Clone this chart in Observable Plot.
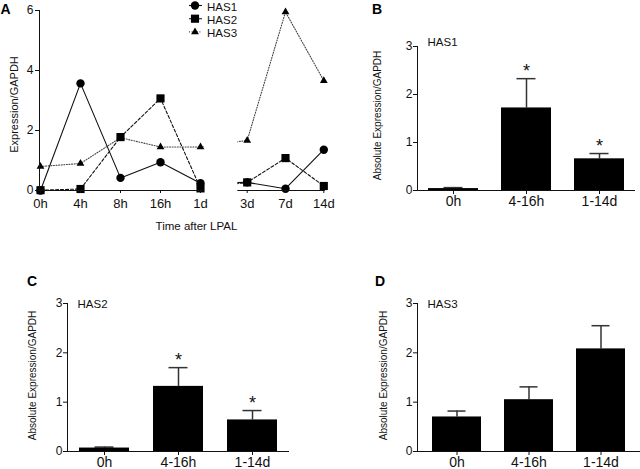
<!DOCTYPE html>
<html><head><meta charset="utf-8">
<script src="https://cdn.jsdelivr.net/npm/d3@7"></script>
<script src="https://cdn.jsdelivr.net/npm/@observablehq/plot@0.6"></script>
<style>
body{margin:0;background:#fff;}
#wrap{position:relative;width:640px;height:469px;overflow:hidden;font-family:"Liberation Sans",Arial,sans-serif;background:#fff;}
#wrap svg{position:absolute;max-width:none;}
.lbl{position:absolute;font-weight:bold;font-size:14px;line-height:1;color:#000;}
</style></head><body><div id="wrap"></div>
<script>
// ---- Panel A data ----
const series = ["HAS1","HAS2","HAS3"];
const timeLabels = ["0h","4h","8h","16h","1d","3d","7d","14d"];
const timeIndex = [0,1,2,3,4,5,6,7];
const has1Time = [0.00, 3.57, 0.42, 0.94, 0.24, 0.27, 0.06, 1.36];
const has2Time = [0.01, 0.05, 1.78, 3.07, 0.07, 0.27, 1.08, 0.15];
const has3Time = [0.80, 0.90, 1.76, 1.45, 1.45, 1.67, 5.95, 3.66];
const yTicksA = [0,2,4,6];

// ---- Panels B-D data ----
const groups = ["0h","4-16h","1-14d"];
const yTicksBar = [0,1,2,3];
const has1Mean = [0.04, 1.72, 0.66];
const has1Sem  = [0.02, 0.61, 0.11];
const has1Sig  = [false, true, true];
const has2Mean = [0.07, 1.32, 0.64];
const has2Sem  = [0.02, 0.38, 0.19];
const has2Sig  = [false, true, true];
const has3Mean = [0.70, 1.05, 2.08];
const has3Sem  = [0.12, 0.26, 0.47];
const has3Sig  = [false, false, false];

const font = "'Liberation Sans', Arial, sans-serif";
const ink = "#111";
const wrap = document.getElementById("wrap");

function place(svg, left, top) {
  svg.style.left = left + "px";
  svg.style.top = top + "px";
  wrap.appendChild(svg);
}
function letter(t, left, top) {
  const d = document.createElement("div");
  d.className = "lbl"; d.textContent = t;
  d.style.left = left + "px"; d.style.top = top + "px";
  wrap.appendChild(d);
}

// ---- Panel A ----
const seriesVals = [has1Time, has2Time, has3Time];
const rowsA = [];
series.forEach((s, k) => timeIndex.forEach((t, i) => rowsA.push({s, t, v: seriesVals[k][i]})));
const lineStyle = {
  HAS1: {stroke: ink, dash: null, width: 1.1},
  HAS2: {stroke: ink, dash: "3,2", width: 1.1},
  HAS3: {stroke: "#444", dash: "1,1.6", width: 1.1}
};
const symbolOf = {HAS1: "circle", HAS2: "square", HAS3: "triangle"};
const radiusOf = {HAS1: 4.2, HAS2: 4.6, HAS3: 2.9};

const plotA = Plot.plot({
  width: 345, height: 240,
  marginLeft: 39, marginTop: 10, marginBottom: 50, marginRight: 0,
  style: {fontFamily: font, background: "transparent", color: ink},
  x: {type: "linear", domain: [0, 4, 5, 7], range: [40, 200, 246.7, 323.3]},
  y: {domain: [0, 6]},
  marks: [
    ...series.map(s => Plot.line(rowsA.filter(d => d.s === s), {
      x: "t", y: "v", stroke: lineStyle[s].stroke, strokeWidth: lineStyle[s].width,
      strokeDasharray: lineStyle[s].dash
    })),
    Plot.rect([0], {x1: 4.075, x2: 4.8, y1: -0.4, y2: 6.4, fill: "white"}),
    ...series.map(s => Plot.dot(rowsA.filter(d => d.s === s), {
      x: "t", y: "v", symbol: symbolOf[s], r: radiusOf[s], fill: "#000", stroke: "none"
    })),
    Plot.frame({anchor: "left", stroke: ink}),
    Plot.ruleY([0], {x1: -0.025, x2: 4.075, stroke: ink}),
    Plot.ruleY([0], {x1: 4.8, x2: 7.04, stroke: ink}),
    Plot.axisY(yTicksA, {tickSize: 4, tickPadding: 2, fontSize: 12, label: null}),
    Plot.axisX(timeIndex, {tickSize: 3, tickPadding: 5, fontSize: 13, tickFormat: i => timeLabels[i], label: null}),
    Plot.text(["Expression/GAPDH"], {text: d => d, frameAnchor: "left", textAnchor: "middle", rotate: -90, dx: -25, dy: 4, fontSize: 11}),
    Plot.text(["Time after LPAL"], {text: d => d, frameAnchor: "bottom", textAnchor: "middle", dx: 4, dy: 39, fontSize: 11.5})
  ]
});
place(plotA, 0, 0);

// legend for panel A
{
  const svg = d3.select(plotA);
  const g = svg.append("g").attr("font-size", 11.5).attr("font-family", font).attr("text-anchor", "start");
  const sym = {HAS1: d3.symbolCircle, HAS2: d3.symbolSquare, HAS3: d3.symbolTriangle};
  series.forEach((s, i) => {
    const y = 5.5 + i * 13.2;
    g.append("line").attr("x1", 189).attr("x2", 202).attr("y1", y).attr("y2", y)
      .attr("stroke", lineStyle[s].stroke).attr("stroke-width", 1.1)
      .attr("stroke-dasharray", lineStyle[s].dash);
    g.append("path").attr("transform", `translate(195,${y})`)
      .attr("d", d3.symbol(sym[s], Math.PI * radiusOf[s] ** 2)()).attr("fill", "#000");
    g.append("text").attr("x", 207).attr("y", y + 1).attr("dy", "0.35em")
      .attr("text-anchor", "start").attr("fill", ink).text(s);
  });
}

// ---- Bar panels ----
function barPanel(o) {
  const rows = groups.map((g, i) => ({g, m: o.mean[i], e: o.mean[i] + o.sem[i], sig: o.sig[i]}));
  const p = Plot.plot({
    width: o.width, height: o.height,
    marginLeft: o.marginLeft, marginTop: o.marginTop, marginBottom: o.marginBottom, marginRight: o.marginRight,
    style: {fontFamily: font, background: "transparent", color: ink},
    x: {type: "band", domain: groups, paddingInner: o.paddingInner, paddingOuter: o.paddingOuter},
    y: {domain: [0, 3]},
    marks: [
      Plot.ruleX(rows, {x: "g", y1: "m", y2: "e", stroke: "#333", strokeWidth: 1.5}),
      Plot.tickY(rows, {x: "g", y: "e", stroke: "#333", strokeWidth: 1.5, insetLeft: o.capInset, insetRight: o.capInset}),
      Plot.barY(rows, {x: "g", y: "m", fill: "#000"}),
      Plot.text(rows.filter(d => d.sig), {x: "g", y: "e", text: () => "*", fontSize: 18, lineAnchor: "bottom", dy: -2}),
      Plot.frame({anchor: "left", stroke: ink}),
      Plot.ruleY([0], {stroke: ink}),
      Plot.axisY(yTicksBar, {tickSize: 4, tickPadding: 1, fontSize: 12, label: null}),
      Plot.axisX(groups, {tickSize: 4, tickPadding: 2, fontSize: 14, label: null}),
      Plot.text([o.name], {text: d => d, frameAnchor: "top-left", dx: 10, dy: o.nameDy, textAnchor: "start", fontSize: 11.5}),
      Plot.text(["Absolute Expression/GAPDH"], {text: d => d, frameAnchor: "left", textAnchor: "middle", rotate: -90, dx: -o.titleOffset, dy: o.titleDy, fontSize: 10})
    ]
  });
  place(p, o.left, o.top);
}

barPanel({name: "HAS1", mean: has1Mean, sem: has1Sem, sig: has1Sig,
  left: 340, top: 0, width: 300, height: 240,
  marginLeft: 77, marginTop: 46, marginBottom: 50, marginRight: 5,
  paddingInner: 0.315, paddingOuter: 0.15, capInset: 15.5, nameDy: -9, titleOffset: 40, titleDy: -3});

barPanel({name: "HAS2", mean: has2Mean, sem: has2Sem, sig: has2Sig,
  left: 0, top: 240, width: 320, height: 229,
  marginLeft: 67, marginTop: 63, marginBottom: 18, marginRight: 31,
  paddingInner: 0.324, paddingOuter: 0.162, capInset: 15.5, nameDy: -4, titleOffset: 35, titleDy: -2});

barPanel({name: "HAS3", mean: has3Mean, sem: has3Sem, sig: has3Sig,
  left: 320, top: 240, width: 320, height: 229,
  marginLeft: 97, marginTop: 63, marginBottom: 18, marginRight: 0,
  paddingInner: 0.32, paddingOuter: 0.19, capInset: 15.5, nameDy: -4, titleOffset: 34, titleDy: -2});

letter("A", 0.5, 1.5);
letter("B", 372, 1.5);
letter("C", 27, 273.5);
letter("D", 375, 273.5);
</script></body></html>
